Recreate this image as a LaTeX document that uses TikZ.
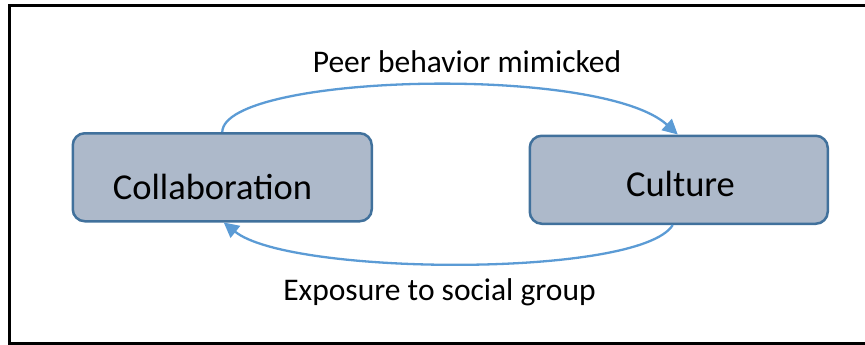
\documentclass[tikz,border=0pt]{standalone}
\usepackage{fontspec}
\setmainfont{Carlito}
\usetikzlibrary{arrows.meta}
\definecolor{boxfill}{HTML}{ADB9CA}
\definecolor{boxline}{HTML}{41719C}
\definecolor{flow}{HTML}{5B9BD5}
\begin{document}
\begin{tikzpicture}[x=1pt,y=-1pt,
  stage/.style={draw=boxline,fill=boxfill,line width=2.5pt,rounded corners=12pt,
    minimum width=#1,inner sep=0pt,anchor=north west,text height=0pt,text depth=0pt},
  stage/.default=299pt,
  boxlabel/.style={font=\fontsize{36.5}{40}\selectfont,anchor=base,inner sep=0pt},
  flowlabel/.style={font=\fontsize{31.5}{36}\selectfont,anchor=base,inner sep=0pt},
  flowarrow/.style={draw=flow,line width=2.3pt,-{Triangle[length=15pt,width=15pt]}}]
  \useasboundingbox (0,0) rectangle (865,345);
  \begin{scope}
    \clip (0,0) rectangle (865,345);
    \draw[line width=2.6pt] (9.5,5.5) rectangle (870,343.5);
  \end{scope}

  % the two stages
  \node[stage=299pt,minimum height=88pt] (collab) at (71.5,132) {};
  \node[stage=298pt,minimum height=88pt] (culture) at (528.5,134.5) {};
  \node[boxlabel] (collabtext) at (212.5,199) {Collaboration};
  \node[boxlabel] (culturetext) at (680.5,196) {Culture};

  % the feedback loop between them
  \draw[flowarrow] (collab.north) .. controls (224,74) and (600,64) .. ([xshift=-1pt]culture.north);
  \draw[flowarrow] ([xshift=-6pt]culture.south) .. controls (640,278) and (290,276) .. ([xshift=1.5pt]collab.south);

  \node[flowlabel] (peer) at (467,73) {Peer behavior mimicked};
  \node[flowlabel] (exposure) at (439.5,300) {Exposure to social group};
\end{tikzpicture}
\end{document}
